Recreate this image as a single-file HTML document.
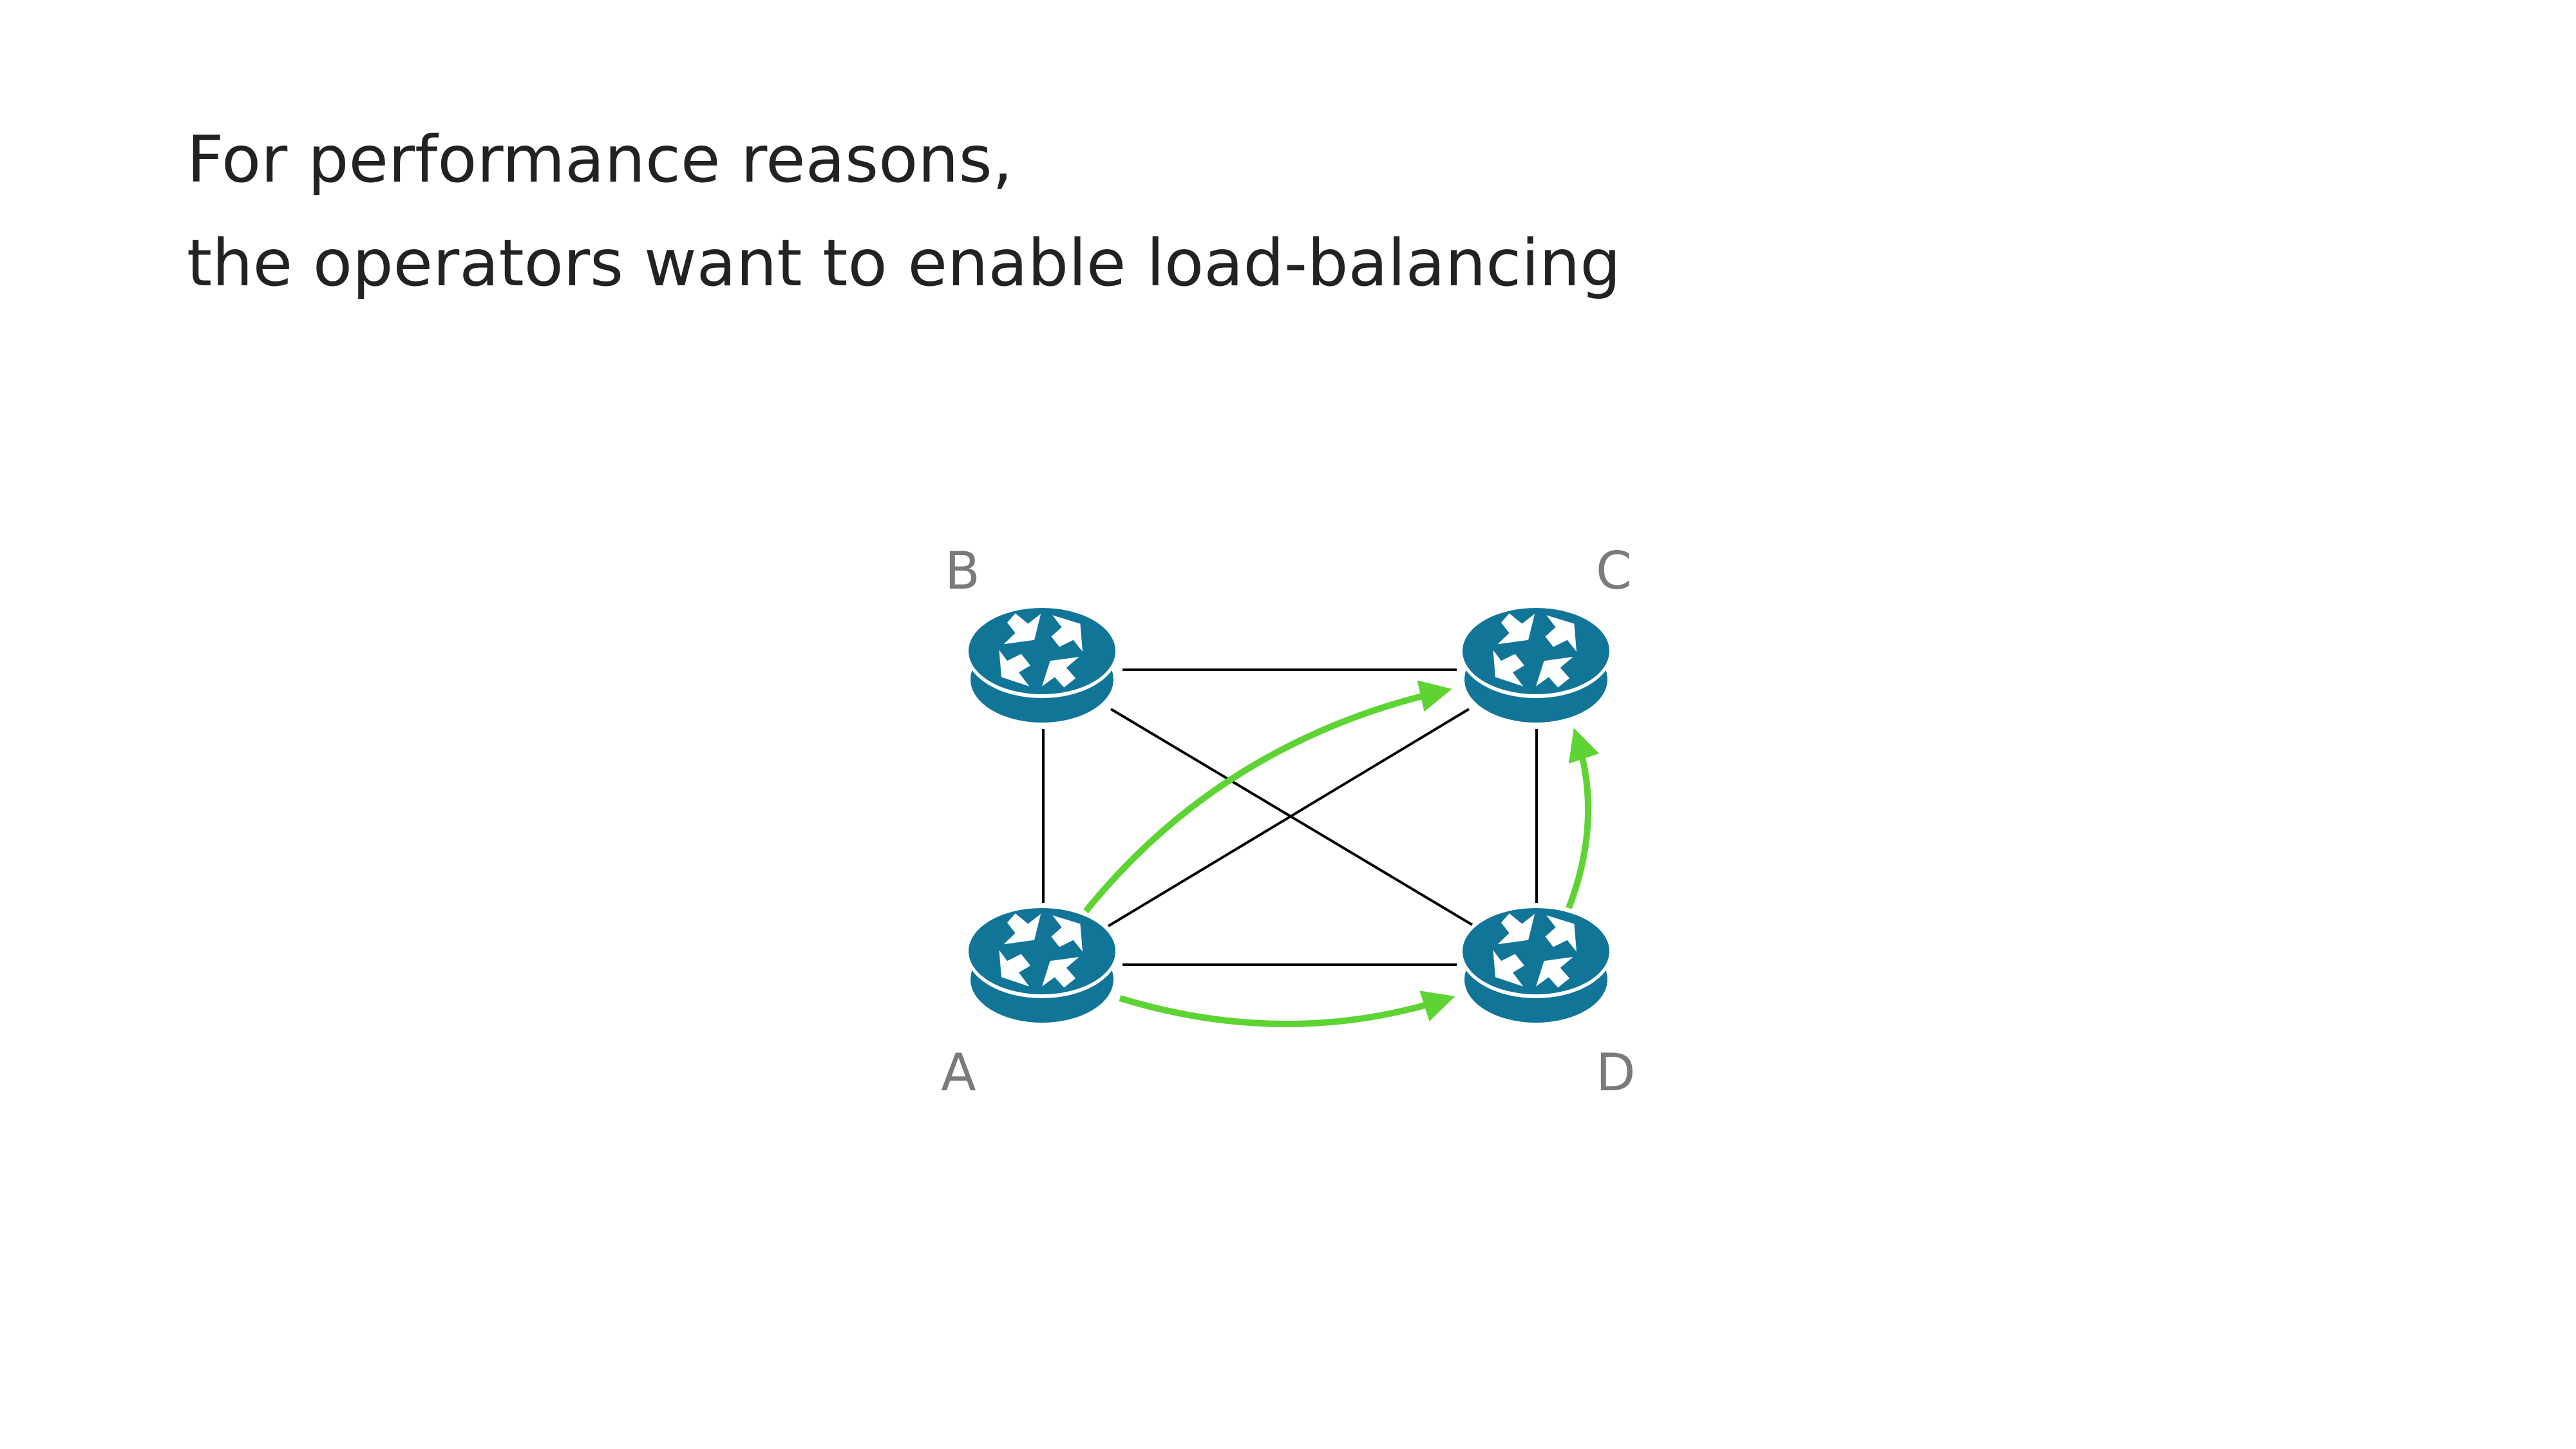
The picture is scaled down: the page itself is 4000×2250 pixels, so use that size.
<!DOCTYPE html>
<html><head><meta charset="utf-8"><style>
html,body{margin:0;padding:0;background:#fff}
body{width:4000px;height:2250px;overflow:hidden;position:relative}
.t{position:absolute;left:290px;font-family:"DejaVu Sans","Liberation Sans",sans-serif;font-size:100px;color:#222;white-space:nowrap}
</style></head><body>
<div class="t" style="top:189px">For performance reasons,</div>
<div class="t" style="top:350px">the operators want to enable load-balancing</div>
<svg width="4000" height="2250" style="position:absolute;left:0;top:0">
<defs>
<g id="r">
<ellipse cx="0" cy="44" rx="111" ry="67" fill="#117598"/>
<ellipse cx="0" cy="0" rx="119" ry="73" fill="#fff"/>
<ellipse cx="0" cy="0" rx="114" ry="67" fill="#117598"/>
<g transform="scale(0.36) translate(-355,-213)" fill="#fff">
<polygon points="240,50 295,95 350,52 322,165 190,183 240,135 205,90"/>
<polygon points="400,58 520,95 530,215 490,165 430,195 395,150 440,110"/>
<polygon points="170,208 205,255 265,225 305,275 255,305 300,365 180,325"/>
<polygon points="355,365 390,255 515,238 460,285 500,330 450,370 410,325"/>
</g>
</g>
<marker id="ah" viewBox="0 0 10 10" refX="8" refY="5" markerWidth="5" markerHeight="5" orient="auto" markerUnits="strokeWidth">
<path d="M0,0 L10,5 L0,10 Z" fill="#5dd433"/>
</marker>
</defs>
<g stroke="#000" stroke-width="4">
<line x1="1743" y1="1040" x2="2262" y2="1040"/>
<line x1="1743" y1="1498" x2="2262" y2="1498"/>
<line x1="1620" y1="1132" x2="1620" y2="1402"/>
<line x1="2386" y1="1132" x2="2386" y2="1402"/>
<line x1="1725" y1="1101" x2="2286" y2="1436"/>
<line x1="1721" y1="1438" x2="2281" y2="1101"/>
</g>
<use href="#r" x="1618" y="1011"/>
<use href="#r" x="2385" y="1011"/>
<use href="#r" x="1618" y="1477"/>
<use href="#r" x="2385" y="1477"/>
<g fill="none" stroke="#5dd433" stroke-width="10" marker-end="url(#ah)">
<path d="M1686,1415 Q1900,1150 2245,1072"/>
<path d="M1739,1550 Q2000,1630 2250,1550"/>
<path d="M2436,1410 Q2490,1270 2447,1140"/>
</g>
<g font-family="DejaVu Sans, Liberation Sans, sans-serif" font-size="80" fill="#7a7a7a">
<text x="1467" y="914">B</text>
<text x="2478" y="914">C</text>
<text x="1461" y="1693">A</text>
<text x="2478" y="1693">D</text>
</g>
</svg>
</body></html>
